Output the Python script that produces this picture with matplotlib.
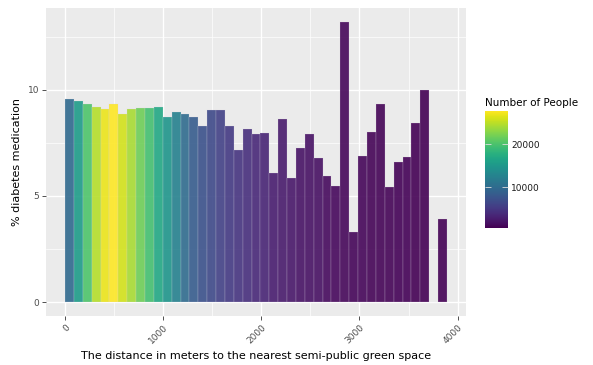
import numpy as np
import matplotlib
matplotlib.use("Agg")
import matplotlib.pyplot as plt
from matplotlib.ticker import MultipleLocator

# % of people on diabetes medication per distance bin (bin 42 is empty)
pct_medication = [9.56, 9.48, 9.34, 9.19, 9.09, 9.31, 8.86, 9.08, 9.15, 9.15,
                  9.19, 8.70, 8.95, 8.86, 8.70, 8.29, 9.05, 9.05, 8.31, 7.14,
                  8.14, 7.92, 7.97, 6.06, 8.61, 5.84, 7.26, 7.90, 6.79, 5.93,
                  5.46, 13.19, 3.30, 6.89, 8.03, 9.34, 5.41, 6.60, 6.81, 8.45,
                  10.0, np.nan, 3.93]
# number of people per bin (fill colour)
n_people = [9700, 15470, 20100, 24700, 26900, 27700, 25800, 24170, 21720, 19550,
            16830, 14700, 12400, 10000, 8300, 7300, 6500, 5800, 5100, 4600,
            4070, 3520, 3250, 2710, 2440, 2170, 1900, 1760, 1620, 1200,
            1100, 1000, 950, 900, 850, 800, 750, 700, 650, 600,
            580, np.nan, 535]
max_distance = 3891

n_bins = len(pct_medication)
bin_width = max_distance / n_bins
bin_left = np.arange(n_bins) * bin_width

fig = plt.figure(figsize=(5.93, 3.65), dpi=100)
ax = fig.add_axes([46 / 593, 1 - 316 / 365, 420 / 593, 308 / 365])

cmap = plt.get_cmap("viridis")
norm = matplotlib.colors.Normalize(vmin=np.nanmin(n_people), vmax=np.nanmax(n_people))
colors = [cmap(norm(v), alpha=0.9) if not np.isnan(v) else (0, 0, 0, 0) for v in n_people]

ax.set_facecolor("#EBEBEB")
ax.bar(bin_left, np.nan_to_num(pct_medication), width=bin_width, align="edge",
       color=colors, edgecolor=(0.85, 0.83, 0.88, 0.45), linewidth=0.35, zorder=3)

ax.set_xlim(-0.05 * max_distance, 1.05 * max_distance)
ymax = np.nanmax(pct_medication)
ax.set_ylim(-0.05 * ymax, 1.05 * ymax)

ax.xaxis.set_major_locator(MultipleLocator(1000))
ax.xaxis.set_minor_locator(MultipleLocator(500))
ax.yaxis.set_major_locator(MultipleLocator(5))
ax.yaxis.set_minor_locator(MultipleLocator(2.5))
ax.grid(which="major", color="white", linewidth=1.0, zorder=0)
ax.grid(which="minor", color="white", linewidth=0.5, zorder=0)
ax.set_axisbelow(True)
for s in ax.spines.values():
    s.set_visible(False)

ax.tick_params(which="major", length=3, color="#333333", width=0.6,
               labelsize=6.5, labelcolor="#4d4d4d", pad=2)
ax.tick_params(which="minor", length=0)
plt.setp(ax.get_xticklabels(), rotation=45, ha="right", rotation_mode="anchor")

ax.set_xlabel("The distance in meters to the nearest semi-public green space",
              fontsize=8, color="black", labelpad=4)
ax.set_ylabel("% diabetes medication", fontsize=8, color="black", labelpad=4)

# colour bar legend
cax = fig.add_axes([485 / 593, 1 - 227.7 / 365, 23.5 / 593, 116.7 / 365])
sm = matplotlib.cm.ScalarMappable(norm=norm, cmap=cmap)
cb = fig.colorbar(sm, cax=cax, ticks=[10000, 20000])
cb.outline.set_visible(False)
cax.tick_params(left=True, right=True, labelleft=False, labelright=True,
                direction="in", length=4, color="#dddddd", width=0.6,
                labelsize=6.5, labelcolor="#1a1a1a", pad=2)
cax.set_yticklabels(["10000", "20000"])
fig.text(485 / 593, 1 - 106 / 365, "Number of People", fontsize=7.5,
         color="black", ha="left", va="baseline")

fig.savefig("out.png", dpi=100)
